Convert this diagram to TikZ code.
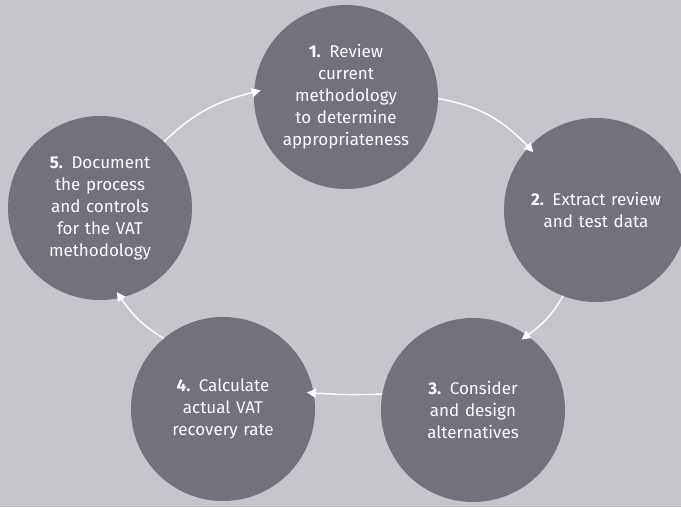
\documentclass[tikz,border=0pt]{standalone}
\usepackage{fontspec}
\setmainfont{Fira Sans}
\usetikzlibrary{arrows.meta}
\definecolor{CycleBack}{HTML}{C5C5CB}
\definecolor{StageGrey}{HTML}{72717C}

\tikzset{
  stage/.style={
    circle,
    fill=StageGrey,
    text=white,
    inner sep=0pt,
    minimum size=184pt,
    text width=150pt,
    align=center,
    font=\fontsize{17pt}{22pt}\selectfont
  },
  flow/.style={
    draw=white,
    line width=1.4pt,
    -{Triangle[length=9pt,width=9pt]},
    shorten >=-7pt
  }
}

\begin{document}
\begin{tikzpicture}[x=1pt,y=1pt]
  \fill[CycleBack] (0,0) rectangle (681,507);
  \useasboundingbox (0,0) rectangle (681,507);
  \clip (0,0) rectangle (681,507);

  % the five steps of the cycle
  \node[stage] (review)    at (346,410) {\textbf{1.} Review\\current\\methodology\\to determine\\appropriateness};
  \node[stage] (extract)   at (596,297) {\textbf{2.} Extract review\\and test data};
  \node[stage] (consider)  at (473,97)  {\textbf{3.} Consider\\and design\\alternatives};
  \node[stage] (calculate) at (223,98)  {\textbf{4.} Calculate\\actual VAT\\recovery rate};
  \node[stage] (document)  at (100,299) {\textbf{5.} Document\\the process\\and controls\\for the VAT\\methodology};

  % arrows round the cycle
  \draw[flow] (review.-1)    to[bend left=18] (extract.137);
  \draw[flow] (extract.249)  to[bend left=12] (consider.54);
  \draw[flow] (consider.170) to[bend left=3]  (calculate.10);
  \draw[flow] (calculate.130) to[bend left=12] (document.-77);
  \draw[flow] (document.46)  to[bend left=15] (review.177);
\end{tikzpicture}
\end{document}
